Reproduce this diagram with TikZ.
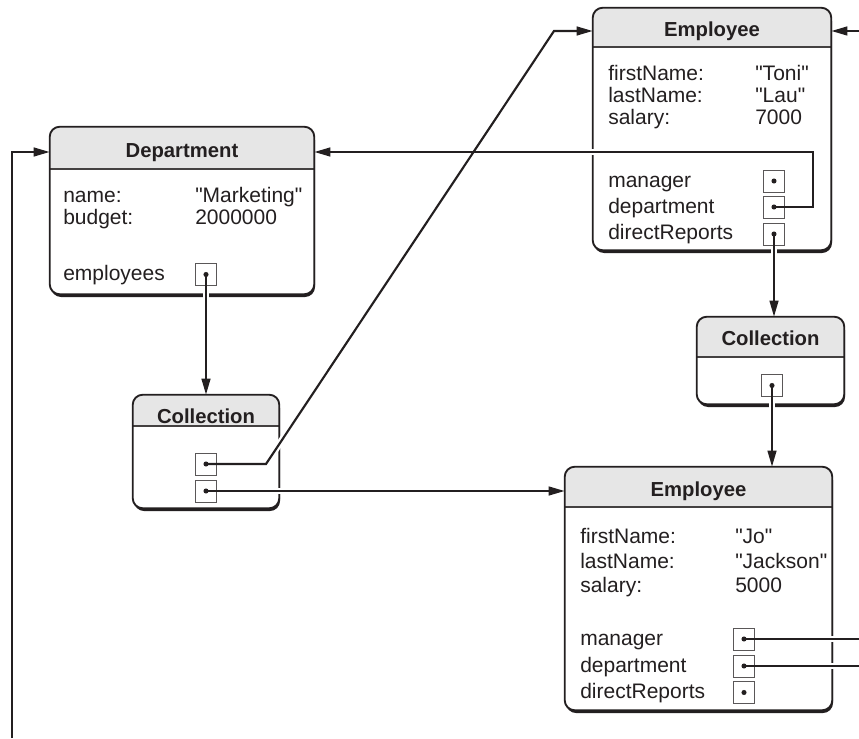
\documentclass[tikz,border=0pt]{standalone}
\usepackage{fontspec}
\setmainfont{Liberation Sans}[Ligatures=TeXOff]
\usetikzlibrary{arrows.meta,fit}

\definecolor{ink}{HTML}{231F20}
\definecolor{hdr}{HTML}{E6E6E6}

\tikzset{
  body/.style={font=\fontsize{15.75}{18}\selectfont, text=ink, inner sep=0pt, anchor=base west},
  title/.style={font=\fontsize{15.2}{18}\selectfont\bfseries, text=ink, inner sep=0pt, anchor=base},
  frame/.style={draw=ink, line width=1.4pt, rounded corners=7.5pt},
  sepline/.style={draw=ink!85, line width=1pt},
  port/.style={draw=ink!75, line width=0.6pt, minimum width=15.75pt, minimum height=16.5pt, inner sep=0pt},
  wire/.style={draw=ink, line width=1.6pt},
  link/.style={wire, -{Triangle[length=12pt,width=6.5pt]}},
  casing/.style={draw=white, line width=5pt},
}

% straight double quotes round a string value
\newcommand\qstr[1]{\char34 #1\char34 }

% object box: name, x1, y1, x2, y2, header bottom, title baseline, title
\newcommand\objbox[8]{%
  \fill[ink, rounded corners=7.5pt] (#2+1,#3+3) rectangle (#4+1,#5+3);
  \fill[white, rounded corners=7.5pt] (#2,#3) rectangle (#4,#5);
  \begin{scope}
    \clip[rounded corners=7.5pt] (#2,#3) rectangle (#4,#5);
    \fill[hdr] (#2,#3) rectangle (#4,#6);
  \end{scope}
  \draw[sepline] (#2,#6) -- (#4,#6);
  \node[fit={(#2,#3) (#4,#5)}, inner sep=0pt] (#1) {};
  \draw[frame] (#1.north west) rectangle (#1.south east);
  \node[title] (#1-title) at ({(#2+#4)/2},#7) {#8};
}
% text field: name, x, baseline, text
\newcommand\field[4]{\node[body] (#1) at (#2,#3) {#4};}
% reference slot with its dot
\newcommand\slot[3]{%
  \node[port] (#1) at (#2,#3) {};
  \fill[ink] (#1.center) circle[radius=1.9pt];
}

\begin{document}
\begin{tikzpicture}[x={(0.75pt,0pt)}, y={(0pt,-0.75pt)}]
\useasboundingbox (0,0) rectangle (859,738);

% ---------- objects ----------
\objbox{dept}{50}{127}{314}{294}{169}{157}{Department}
\field{dept-k1}{63}{202}{name:}
\field{dept-v1}{195}{202}{\qstr{Marketing}}
\field{dept-k2}{63}{224}{budget:}
\field{dept-v2}{195}{224}{2000000}
\field{dept-k3}{63}{280}{employees}

\objbox{toni}{593}{8}{831}{250}{47}{37}{Employee}
\field{toni-k1}{608}{81}{firstName:}
\field{toni-v1}{755}{81}{\qstr{Toni}}
\field{toni-k2}{608}{103}{lastName:}
\field{toni-v2}{755}{103}{\qstr{Lau}}
\field{toni-k3}{608}{125}{salary:}
\field{toni-v3}{755}{125}{7000}
\field{toni-k4}{608}{187}{manager}
\field{toni-k5}{608}{213}{department}
\field{toni-k6}{608}{239}{directReports}

\objbox{coll2}{697}{317}{844}{404}{357}{345}{Collection}

\objbox{coll1}{133}{395}{279}{508}{426}{423}{Collection}

\objbox{jo}{565}{467}{832}{710}{507}{496}{Employee}
\field{jo-k1}{580}{543}{firstName:}
\field{jo-v1}{735}{543}{\qstr{Jo}}
\field{jo-k2}{580}{568}{lastName:}
\field{jo-v2}{735}{568}{\qstr{Jackson}}
\field{jo-k3}{580}{592}{salary:}
\field{jo-v3}{735}{592}{5000}
\field{jo-k4}{580}{645}{manager}
\field{jo-k5}{580}{672}{department}
\field{jo-k6}{580}{698}{directReports}

% ---------- routing points ----------
\coordinate (deptLoopBottom) at (12,738);
\coordinate (deptLoopCorner) at (12,152);
\coordinate (toniDeptBend) at (813,207);
\coordinate (toniDeptTop) at (813,152);
\coordinate (collBendA) at (266,464);
\coordinate (collBendB) at (554,31);
\coordinate (joMgrEnd) at (859,639);
\coordinate (joDeptEnd) at (859,666);
\coordinate (toniMgrIn) at (859,31);

% slot positions (centres)
\coordinate (s-dept) at (206,274.5);
\coordinate (s-tm) at (774,181);
\coordinate (s-td) at (774,207);
\coordinate (s-tr) at (774,234);
\coordinate (s-c2) at (772,385.5);
\coordinate (s-c1a) at (206,464);
\coordinate (s-c1b) at (206,491);
\coordinate (s-jm) at (744,639);
\coordinate (s-jd) at (744,666);
\coordinate (s-jr) at (744,692.5);

% ---------- white casings where wires cross frames ----------
\begin{scope}[casing]
  \draw (s-dept) -- ([yshift=10pt]s-dept |- coll1.north);
  \draw (s-tr) -- ([yshift=10pt]s-tr |- coll2.north);
  \draw (s-c2) -- ([yshift=10pt]s-c2 |- jo.north);
  \draw (s-td) -- (toniDeptBend) -- (toniDeptTop) -- ([xshift=10pt]dept.east |- toniDeptTop);
  \draw (s-c1a) -- (collBendA) -- (collBendB);
  \draw (s-c1b) -- ([xshift=-10pt]jo.west |- s-c1b);
  \draw (s-jm) -- (joMgrEnd);
  \draw (s-jd) -- (joDeptEnd);
\end{scope}

% ---------- slots ----------
\slot{p-dept}{206}{274.5}
\slot{p-tm}{774}{181}
\slot{p-td}{774}{207}
\slot{p-tr}{774}{234}
\slot{p-c2}{772}{385.5}
\slot{p-c1a}{206}{464}
\slot{p-c1b}{206}{491}
\slot{p-jm}{744}{639}
\slot{p-jd}{744}{666}
\slot{p-jr}{744}{692.5}

% ---------- references ----------
\draw[link] (p-dept.center) -- (p-dept.center |- coll1.north);
\draw[link] (p-tr.center) -- (p-tr.center |- coll2.north);
\draw[link] (p-c2.center) -- (p-c2.center |- jo.north);
\draw[link] (p-td.center) -- (toniDeptBend) -- (toniDeptTop) -- (dept.east |- toniDeptTop);
\draw[link] (p-c1a.center) -- (collBendA) -- (collBendB) -- (toni.west |- collBendB);
\draw[link] (p-c1b.center) -- (jo.west |- p-c1b.center);
\draw[wire] (p-jm.center) -- (joMgrEnd);
\draw[wire] (p-jd.center) -- (joDeptEnd);
\draw[link] (toniMgrIn) -- (toni.east |- toniMgrIn);
\draw[link] (deptLoopBottom) -- (deptLoopCorner) -- (dept.west |- deptLoopCorner);
\end{tikzpicture}
\end{document}
